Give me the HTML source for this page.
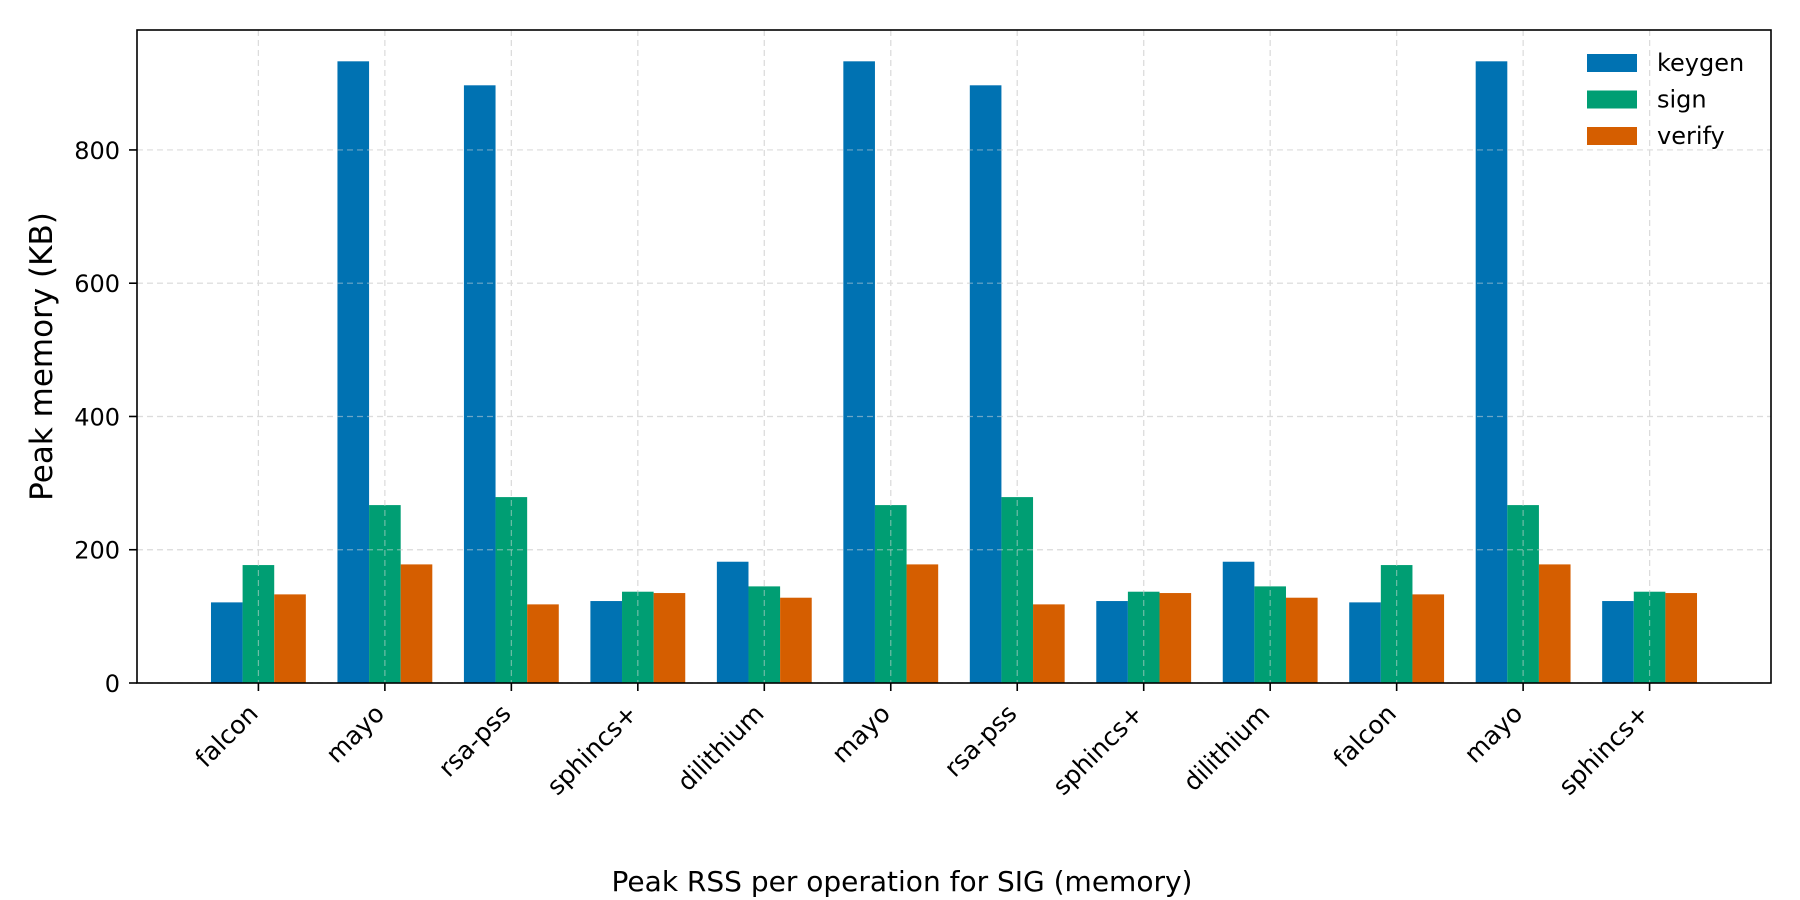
<!DOCTYPE html>
<html><head><meta charset="utf-8"><style>
html,body{margin:0;padding:0;background:#fff;}
svg{display:block;font-family:"DejaVu Sans","Liberation Sans",sans-serif;}
</style></head><body>
<svg id="chart" width="1800" height="900" viewBox="0 0 1800 900"></svg>
<script>
const categories=["falcon","mayo","rsa-pss","sphincs+","dilithium","mayo","rsa-pss","sphincs+","dilithium","falcon","mayo","sphincs+"];
const keygen=[121,933,897,123,182,933,897,123,182,121,933,123];
const sign=[177,267,279,137,145,267,279,137,145,177,267,137];
const verify=[133,178,118,135,128,178,118,135,128,133,178,135];
const yTicks=[0,200,400,600,800];
const seriesNames=["keygen","sign","verify"];
const colors=["#0072b2","#009e73","#d55e00"];

const L=137,R=1771,T=30,B=683;
const xMin=-0.96,xMax=11.96,yMax=980;
const xs=v=>L+(v-xMin)/(xMax-xMin)*(R-L);
const ys=v=>B-v/yMax*(B-T);
const svg=document.getElementById('chart');
const NS="http://www.w3.org/2000/svg";
function mk(t,a){const e=document.createElementNS(NS,t);for(const k in a)e.setAttribute(k,a[k]);svg.appendChild(e);return e;}

yTicks.forEach(v=>{const g=mk('line',{x1:L,x2:R,y1:ys(v),y2:ys(v),stroke:'#ddd','stroke-width':1.2,'stroke-dasharray':'6,4'});

});
categories.forEach((c,i)=>{const g=mk('line',{x1:xs(i),x2:xs(i),y1:T,y2:B,stroke:'#ddd','stroke-width':1.2,'stroke-dasharray':'6,4'});

});

const series=[keygen,sign,verify];
const w=0.25;
series.forEach((s,si)=>{s.forEach((v,i)=>{
 const x0=xs(i+(si-1)*w-w/2),x1=xs(i+(si-1)*w+w/2);
 const r=mk('rect',{x:x0,y:ys(v),width:x1-x0,height:ys(0)-ys(v),fill:colors[si]});
 
 
});});

categories.forEach((c,i)=>{const g=mk('line',{x1:xs(i),x2:xs(i),y1:T,y2:B,stroke:'rgba(220,220,220,0.5)','stroke-width':1.2,'stroke-dasharray':'6,4'});

});
yTicks.forEach(v=>{const g=mk('line',{x1:L,x2:R,y1:ys(v),y2:ys(v),stroke:'rgba(220,220,220,0.5)','stroke-width':1.2,'stroke-dasharray':'6,4'});

});

const f=mk('rect',{x:L,y:T,width:R-L,height:B-T,fill:'none',stroke:'#000','stroke-width':1.6});



yTicks.forEach(v=>{
 const t=mk('line',{x1:L-8,x2:L,y1:ys(v),y2:ys(v),stroke:'#000','stroke-width':1.6});
 
 
 const tx=mk('text',{x:L-17,y:ys(v)+9,'text-anchor':'end','font-size':24,fill:'#000'});
 tx.textContent=v;
 
 
});
categories.forEach((c,i)=>{
 const t=mk('line',{x1:xs(i),x2:xs(i),y1:B,y2:B+8,stroke:'#000','stroke-width':1.6});
 
 
 const x=xs(i)+1,y=B+32;
 const tx=mk('text',{x:x,y:y,'text-anchor':'end','font-size':25,fill:'#000',transform:`rotate(-45 ${x} ${y})`});
 tx.textContent=c;
 
 
});

const yl=mk('text',{x:52,y:(T+B)/2,'text-anchor':'middle','font-size':31,fill:'#000',transform:`rotate(-90 52 ${(T+B)/2})`});
yl.textContent='Peak memory (KB)';


const xl=mk('text',{x:902,y:891,'text-anchor':'middle','font-size':28,fill:'#000'});
xl.textContent='Peak RSS per operation for SIG (memory)';



seriesNames.forEach((n,i)=>{
 const y=63+i*36.5;
 const p=mk('rect',{x:1587,y:y-9,width:50,height:18,fill:colors[i]});
 
 
 const t=mk('text',{x:1657,y:y+8,'font-size':24,fill:'#000'});
 t.textContent=n;
 
 
});
</script>
</body></html>
